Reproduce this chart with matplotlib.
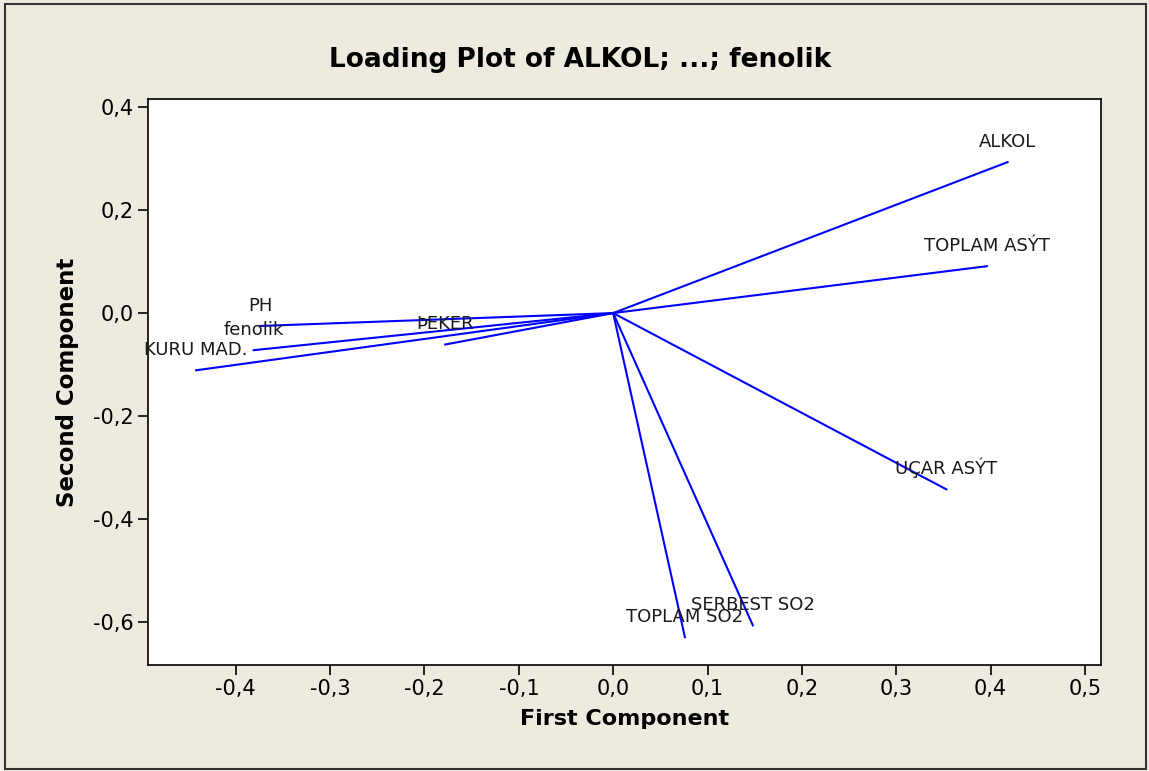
import matplotlib.pyplot as plt
from matplotlib.patches import Rectangle

# loadings
names = ["ALKOL", "TOPLAM ASÝT", "UÇAR ASÝT", "SERBEST SO2", "TOPLAM SO2",
         "PH", "fenolik", "KURU MAD.", "ÞEKER"]
first = [0.418, 0.396, 0.353, 0.148, 0.076, -0.374, -0.381, -0.442, -0.178]
second = [0.293, 0.091, -0.342, -0.606, -0.629, -0.025, -0.072, -0.111, -0.061]

xticks = [-0.4, -0.3, -0.2, -0.1, 0.0, 0.1, 0.2, 0.3, 0.4, 0.5]
xlabels = ["-0,4", "-0,3", "-0,2", "-0,1", "0,0", "0,1", "0,2", "0,3", "0,4", "0,5"]
yticks = [0.4, 0.2, 0.0, -0.2, -0.4, -0.6]
ylabels = ["0,4", "0,2", "0,0", "-0,2", "-0,4", "-0,6"]

bg = "#EEEAE0"
fig = plt.figure(figsize=(11.49, 7.71), dpi=100, facecolor=bg)
ax = fig.add_axes([148/1149, 1 - 665/771, (1101-148)/1149, (665-99)/771])
ax.set_facecolor("white")

for n, x, y in zip(names, first, second):
    ax.plot([0, x], [0, y], color="#0000FF", lw=1.5)
    ax.annotate(n, (x, y), xytext=(0, 8), textcoords="offset points",
                ha="center", va="bottom", fontsize=13, color="#1a1a1a")

ax.set_xlim(-0.493, 0.517)
ax.set_ylim(-0.683, 0.4155)
ax.set_xticks(xticks)
ax.set_xticklabels(xlabels)
ax.set_yticks(yticks)
ax.set_yticklabels(ylabels)
ax.tick_params(direction="out", length=7, width=1.2, labelsize=15, pad=3)
for s in ax.spines.values():
    s.set_linewidth(1.2)

ax.set_xlabel("First Component", fontsize=16, fontweight="bold", labelpad=7)
ax.set_ylabel("Second Component", fontsize=16.5, fontweight="bold", labelpad=10)
fig.text(580/1149, 1 - 60/771, "Loading Plot of ALKOL; ...; fenolik",
         ha="center", va="center", fontsize=19, fontweight="bold")

# outer frame
fig.patches.append(Rectangle((5/1149, 2/771), 1141/1149, 765/771, transform=fig.transFigure,
                             fill=False, edgecolor="#333333", lw=1.5))

fig.savefig("out.png", dpi=100, facecolor=bg)
